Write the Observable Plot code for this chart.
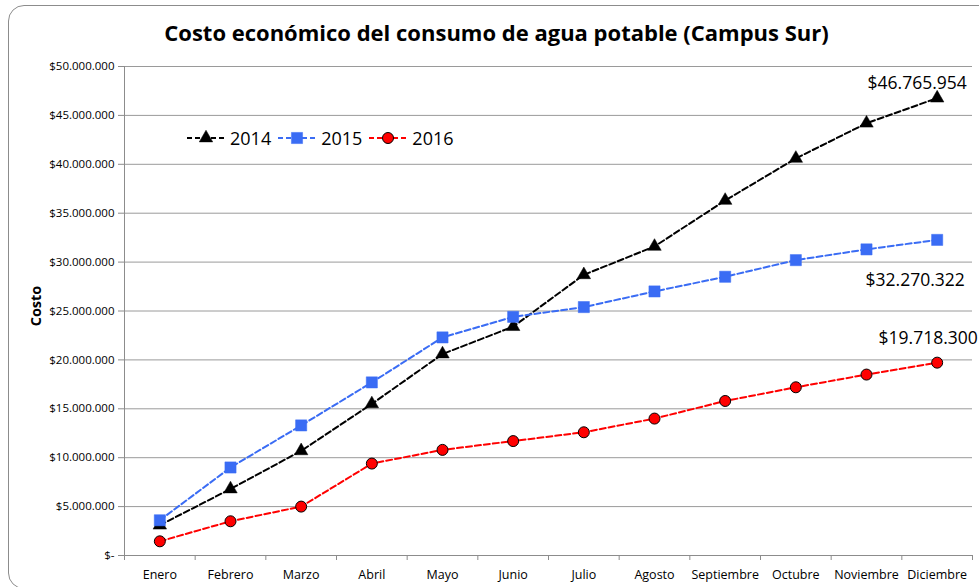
<!DOCTYPE html>
<html>
<head>
<meta charset="utf-8">
<script src="https://cdn.jsdelivr.net/npm/d3@7"></script>
<script src="https://cdn.jsdelivr.net/npm/@observablehq/plot@0.6"></script>
<style>
  html, body { margin: 0; padding: 0; background: #fff; overflow: hidden; }
  #wrap { position: relative; width: 979px; height: 587px; overflow: hidden; font-family: "Open Sans", sans-serif; }
  #frame { position: absolute; left: 8px; top: 5px; width: 990px; height: 584px; border: 1.5px solid #8c8c8c; border-radius: 16px; box-sizing: border-box; }
  #title { position: absolute; left: 0; top: 17px; width: 993px; text-align: center; font-weight: bold; font-size: 22px; line-height: 30px; color: #000; }
  #chart { position: absolute; left: 0; top: 0; }
  #legend { position: absolute; left: 186px; top: 126px; display: flex; align-items: center; font-size: 18px; color: #000; }
  #legend .item { display: flex; align-items: center; margin-right: 6px; }
  #legend svg { display: block; }
</style>
</head>
<body>
<div id="wrap">
  <div id="frame"></div>
  <div id="chart"></div>
  <div id="title"></div>
  <div id="legend"></div>
</div>
<script>
const titleText = "Costo económico del consumo de agua potable (Campus Sur)";
const axisLabel = "Costo";
const months = ["Enero","Febrero","Marzo","Abril","Mayo","Junio","Julio","Agosto","Septiembre","Octubre","Noviembre","Diciembre"];
const years = ["2014", "2015", "2016"];
const v2014 = [3100000, 6800000, 10700000, 15500000, 20600000, 23400000, 28700000, 31600000, 36300000, 40600000, 44200000, 46765954];
const v2015 = [3600000, 9000000, 13300000, 17700000, 22300000, 24400000, 25400000, 27000000, 28500000, 30200000, 31300000, 32270322];
const v2016 = [1450000, 3500000, 5000000, 9400000, 10800000, 11700000, 12600000, 14000000, 15800000, 17200000, 18500000, 19718300];
const yTicks = [0, 5000000, 10000000, 15000000, 20000000, 25000000, 30000000, 35000000, 40000000, 45000000, 50000000];

const locale = d3.formatLocale({decimal: ",", thousands: ".", grouping: [3], currency: ["$", ""]});
const money = locale.format("$,.0f");
const fmt = v => v === 0 ? "$-" : money(v);

const valuesByYear = {"2014": v2014, "2015": v2015, "2016": v2016};
const styleByYear = {
  "2014": {color: "#000000", symbol: "triangle", r: 5, stroke: "#000000"},
  "2015": {color: "#3a6cf4", symbol: "square", r: 6.3, stroke: "#3a6cf4"},
  "2016": {color: "#ff0000", symbol: "circle", r: 5.5, stroke: "#000000"}
};
const rows = years.flatMap(yr => months.map((m, i) => ({year: yr, i: i + 0.5, month: m, value: valuesByYear[yr][i]})));
const lastRows = years.map(yr => ({year: yr, i: 11.5, value: valuesByYear[yr][11]}));

const labelOffsets = {"2014": [-20, -15], "2015": [-22, 40], "2016": [-9, -24]};

const marks = [
  Plot.gridY(yTicks, {stroke: "#9a9a9a", strokeOpacity: 1, strokeWidth: 1}),
  Plot.ruleY([0], {stroke: "#8c8c8c"}),
  Plot.ruleX([0], {stroke: "#8c8c8c"}),
  Plot.axisY({ticks: yTicks, tickSize: 6, tickPadding: 4, tickFormat: fmt, stroke: "#8c8c8c", fill: "#000", fontSize: 11.5, label: null}),
  Plot.axisX({ticks: d3.range(13), tickSize: 5, tickFormat: () => "", stroke: "#8c8c8c", label: null}),
  Plot.axisX({ticks: months.map((_, i) => i + 0.5), tickSize: 0, tickPadding: 15, tickFormat: d => months[Math.floor(d)], fill: "#000", fontSize: 12.5, label: null}),
  Plot.text([axisLabel], {frameAnchor: "left", textAnchor: "middle", rotate: -90, dx: -88, dy: -5, fontWeight: "bold", fontSize: 14.5, fill: "#000"})
];
for (const yr of years) {
  const s = styleByYear[yr];
  const data = rows.filter(d => d.year === yr);
  marks.push(Plot.line(data, {x: "i", y: "value", stroke: s.color, strokeWidth: 2, strokeDasharray: "6,3"}));
}
for (const yr of years) {
  const s = styleByYear[yr];
  const data = rows.filter(d => d.year === yr);
  marks.push(Plot.dot(data, {x: "i", y: "value", symbol: () => s.symbol, r: s.r, fill: s.color, stroke: s.stroke, strokeWidth: yr === "2016" ? 1 : 0.5}));
}
for (const yr of years) {
  const [dx, dy] = labelOffsets[yr];
  marks.push(Plot.text(lastRows.filter(d => d.year === yr), {x: "i", y: "value", text: d => money(d.value), dx, dy, fontSize: 17.5, fill: "#000"}));
}

const chart = Plot.plot({
  width: 979,
  height: 587,
  marginLeft: 124,
  marginRight: 7,
  marginTop: 66,
  marginBottom: 32,
  x: {domain: [0, 12]},
  y: {domain: [0, 50000000]},
  symbol: {type: "identity"},
  style: {fontFamily: "'Open Sans', sans-serif", background: "transparent", overflow: "visible"},
  marks
});
document.getElementById("chart").appendChild(chart);
document.getElementById("title").textContent = titleText;

// Legend
const legend = document.getElementById("legend");
for (const yr of years) {
  const s = styleByYear[yr];
  const item = document.createElement("div");
  item.className = "item";
  const ns = "http://www.w3.org/2000/svg";
  const svg = document.createElementNS(ns, "svg");
  svg.setAttribute("width", "40");
  svg.setAttribute("height", "20");
  const line = document.createElementNS(ns, "line");
  line.setAttribute("x1", "1"); line.setAttribute("x2", "39");
  line.setAttribute("y1", "10"); line.setAttribute("y2", "10");
  line.setAttribute("stroke", s.color); line.setAttribute("stroke-width", "2");
  line.setAttribute("stroke-dasharray", "5,3");
  svg.appendChild(line);
  const sym = document.createElementNS(ns, "path");
  const typeMap = {triangle: d3.symbolTriangle, square: d3.symbolSquare, circle: d3.symbolCircle};
  sym.setAttribute("d", d3.symbol(typeMap[s.symbol], s.r * s.r * Math.PI)());
  sym.setAttribute("transform", "translate(20,10)");
  sym.setAttribute("fill", s.color);
  sym.setAttribute("stroke", s.stroke);
  sym.setAttribute("stroke-width", yr === "2016" ? "1" : "0.5");
  svg.appendChild(sym);
  item.appendChild(svg);
  const label = document.createElement("span");
  label.textContent = yr;
  label.style.marginLeft = "4px";
  item.appendChild(label);
  legend.appendChild(item);
}
</script>
</body>
</html>
